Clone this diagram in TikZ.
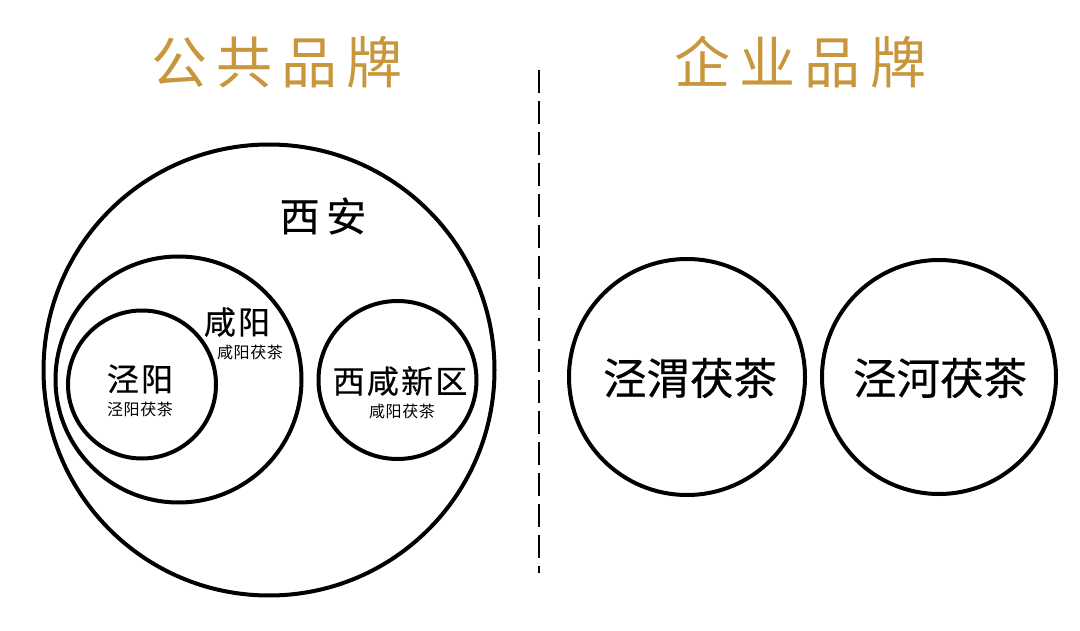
\documentclass[tikz,border=0pt]{standalone}
\usepackage{fontspec}
\setmainfont{Noto Sans CJK SC}
\newfontfamily\cjkb[FakeBold=0.4]{Noto Sans CJK SC}
\definecolor{gold}{RGB}{200,150,60}
\tikzset{
  ring/.style={circle, draw=black, line width=4pt, inner sep=0pt},
  title/.style={text=gold, inner sep=0pt, font=\fontsize{56pt}{56pt}\selectfont},
  big/.style={inner sep=0pt, font=\cjkb\fontsize{40pt}{40pt}\selectfont},
  mid/.style={inner sep=0pt, font=\cjkb\fontsize{32pt}{32pt}\selectfont\addfontfeature{LetterSpace=7}},
  small/.style={inner sep=0pt, font=\fontsize{16pt}{16pt}\selectfont\addfontfeature{LetterSpace=4}},
  brand/.style={inner sep=0pt, font=\cjkb\fontsize{43.5pt}{43.5pt}\selectfont},
}
\begin{document}
\begin{tikzpicture}[x=1pt,y=-1pt]
\useasboundingbox (0,0) rectangle (1080,631);
% titles
\node[title] (t1) at (277,62) {公\,共\,品\,牌};
\node[title] (t2) at (800,62) {企\,业\,品\,牌};
% divider
\coordinate (d1) at (539,70);
\coordinate (d2) at (539,573);
\draw[line width=2pt, dash pattern=on 23pt off 8pt] (d1) -- (d2);
% left circles
\node[ring, minimum size=451pt] (xian) at (269,370) {};
\node[ring, minimum size=246pt] (xy) at (178.5,379.5) {};
\node[ring, minimum size=148pt] (jy) at (142,384.5) {};
\node[ring, minimum size=158pt] (xx) at (397.5,380) {};
% right circles
\node[ring, minimum size=236pt] (jw) at (687,377) {};
\node[ring, minimum size=234pt] (jh) at (939,377) {};
% labels
\node[big] (lxian) at (323,216) {西\,安};
\node[mid] (lxy) at (237,322) {咸阳};
\node[small] (sxy) at (250,352) {咸阳茯茶};
\node[mid] (ljy) at (140,379) {泾阳};
\node[small] (sjy) at (140,409) {泾阳茯茶};
\node[mid] (lxx) at (400,381) {西咸新区};
\node[small] (sxx) at (402,411) {咸阳茯茶};
\node[brand] (ljw) at (690,378) {泾渭茯茶};
\node[brand] (ljh) at (940,378) {泾河茯茶};
\end{tikzpicture}
\end{document}
